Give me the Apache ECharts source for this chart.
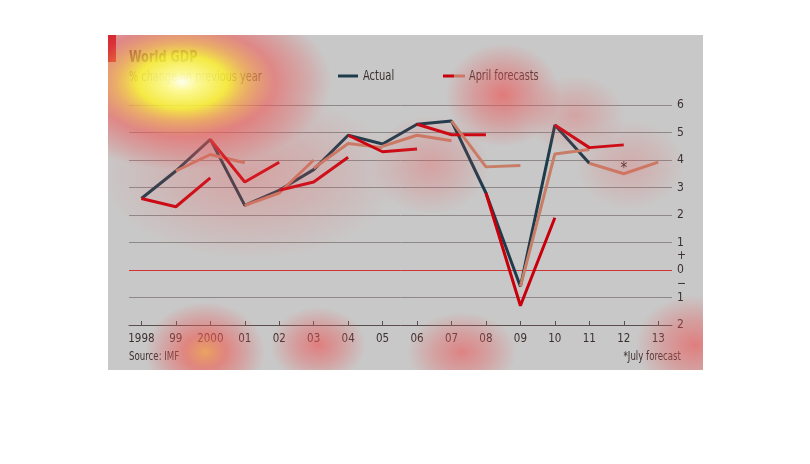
<!DOCTYPE html>
<html><head><meta charset="utf-8">
<script src="https://cdn.jsdelivr.net/npm/echarts@6/dist/echarts.min.js"></script>
<style>html,body{margin:0;padding:0;background:#fff}#c{width:810px;height:464px}</style>
</head><body><div id="c"></div>
<script>
// ---------- data ----------
const years = [1998,1999,2000,2001,2002,2003,2004,2005,2006,2007,2008,2009,2010,2011,2012,2013];
const tickLabels = ['1998','99','2000','01','02','03','04','05','06','07','08','09','10','11','12','13'];
const actualYears = [1998,1999,2000,2001,2002,2003,2004,2005,2006,2007,2008,2009,2010,2011];
const actual = [2.6,3.6,4.75,2.35,2.9,3.65,4.9,4.58,5.3,5.42,2.8,-0.6,5.27,3.88];
// each April forecast: [estimate for previous year, forecast for current year, forecast for next year]
const aprilForecastYears = [1999,2000,2001,2002,2003,2004,2005,2006,2007,2008,2009,2010,2011];
const aprilForecasts = [
  [2.6,2.3,3.35],
  [3.6,4.2,3.9],
  [4.75,3.2,3.92],
  [2.35,2.8,4.0],
  [2.9,3.2,4.1],
  [3.7,4.6,4.45],
  [4.9,4.3,4.4],
  [4.5,4.9,4.7],
  [5.3,4.92,4.92],
  [5.42,3.75,3.8],
  [2.8,-1.3,1.9],
  [-0.6,4.22,4.38],
  [5.27,4.45,4.55]
];
const julyForecastYears = [2011,2012,2013];
const julyForecast = [3.88,3.5,3.92];
const yLabelValues = [6,5,4,3,2,1,0.5,0,-0.5,-1,-2];
const yLabelTexts = ['6','5','4','3','2','1','+','0','\u2212','1','2'];

// ---------- styles ----------
const FONT = "'DejaVu Sans Condensed','DejaVu Sans',sans-serif";
const C_ACTUAL = '#1d3b4b';
const C_RED = '#c8000c';
const C_SALMON = '#c87d66';
const C_TEXT = '#3a3030';

const series = [];
series.push({
  name: 'Actual', type: 'line', data: actualYears.map((y, i) => [y, actual[i]]),
  showSymbol: false, symbol: 'none', z: 3,
  lineStyle: { color: C_ACTUAL, width: 3 },
  markLine: { silent: true, symbol: 'none', label: { show: false }, z: 1,
    lineStyle: { color: '#d43333', width: 1, type: 'solid' }, data: [{ yAxis: 0 }] }
});
aprilForecastYears.forEach((fy, k) => {
  const vals = aprilForecasts[k];
  series.push({
    name: 'April ' + fy, type: 'line', symbol: 'none', z: 4,
    data: vals.map((v, j) => [fy - 1 + j, v]),
    lineStyle: { color: fy % 2 === 1 ? C_RED : C_SALMON, width: 3 }
  });
});
series.push({
  name: 'July', type: 'line', symbol: 'circle', symbolSize: 0, showSymbol: true, z: 4,
  itemStyle: { color: C_SALMON },
  data: julyForecastYears.map((y, i) => i === 1
    ? { value: [y, julyForecast[i]], label: { show: true, formatter: '*', position: 'top', distance: -3,
        fontFamily: FONT, fontSize: 15, color: C_TEXT } }
    : [y, julyForecast[i]]),
  lineStyle: { color: C_SALMON, width: 3 }
});

// decorative heat overlay (attention map on the reference)
function blob(cx, cy, rx, ry, stops) {
  return { type: 'circle', x: cx, y: cy, scaleX: rx / ry, silent: true, z: 100,
    shape: { cx: 0, cy: 0, r: ry },
    style: { fill: { type: 'radial', x: 0.5, y: 0.5, r: 0.5, colorStops: stops } } };
}
const mild = a => [
  { offset: 0, color: 'rgba(238,80,80,' + a + ')' },
  { offset: 0.5, color: 'rgba(232,90,90,' + (a * 0.6) + ')' },
  { offset: 1, color: 'rgba(230,90,90,0)' }];
const warm = [
  { offset: 0, color: 'rgba(242,155,70,0.8)' },
  { offset: 0.35, color: 'rgba(238,90,80,0.6)' },
  { offset: 0.7, color: 'rgba(232,90,90,0.3)' },
  { offset: 1, color: 'rgba(230,90,90,0)' }];
const hot = [
  { offset: 0, color: 'rgba(255,255,240,0.98)' },
  { offset: 0.1, color: 'rgba(255,252,150,0.95)' },
  { offset: 0.3, color: 'rgba(250,238,50,0.88)' },
  { offset: 0.45, color: 'rgba(246,160,70,0.72)' },
  { offset: 0.62, color: 'rgba(238,90,88,0.58)' },
  { offset: 0.82, color: 'rgba(234,90,90,0.3)' },
  { offset: 1, color: 'rgba(230,90,90,0)' }];

const overlay = [
  blob(250, 175, 150, 85, mild(0.3)),
  blob(430, 165, 60, 50, mild(0.32)),
  blob(575, 115, 50, 40, mild(0.3)),
  blob(630, 165, 55, 45, mild(0.24)),
  blob(503, 95, 58, 52, mild(0.65)),
  blob(205, 352, 60, 50, warm),
  blob(318, 345, 48, 38, mild(0.62)),
  blob(462, 352, 55, 40, mild(0.58)),
  blob(695, 345, 60, 50, mild(0.62)),
  blob(182, 82, 150, 88, hot)
];
const covers = [
  [0, 0, 810, 35], [0, 0, 108, 464], [703, 0, 107, 464], [0, 370, 810, 94]
].map(r => ({ type: 'rect', silent: true, z: 200, shape: { x: r[0], y: r[1], width: r[2], height: r[3] }, style: { fill: '#fff' } }));

function txt(x, y, s, size, sx, extra) {
  return { type: 'text', z: 50, x: x, y: y, scaleX: sx,
    style: Object.assign({ text: s, fontFamily: FONT, fontSize: size, fill: C_TEXT, textVerticalAlign: 'middle' }, extra || {}) };
}

const chart = echarts.init(document.getElementById('c'), null, { renderer: 'canvas' });
chart.setOption({
  animation: false,
  backgroundColor: '#ffffff',
  textStyle: { fontFamily: FONT },
  grid: { left: 129, right: 138, top: 105, bottom: 139, containLabel: false },
  xAxis: {
    type: 'value', min: 1997.64, max: 2013.4,
    splitLine: { show: false },
    axisLine: { show: true, onZero: false, lineStyle: { color: '#5a4e4e', width: 1 } },
    axisTick: { show: true, inside: true, length: 4, customValues: years, lineStyle: { color: '#5a4e4e' } },
    axisLabel: { customValues: years, margin: 8, fontFamily: FONT, fontSize: 11.5, color: C_TEXT,
      formatter: v => tickLabels[years.indexOf(Math.round(v))] }
  },
  yAxis: {
    type: 'value', position: 'right', min: -2, max: 6, interval: 1,
    axisLine: { show: false }, axisTick: { show: false },
    splitLine: { show: true, lineStyle: { color: '#8e8888', width: 1 } },
    axisLabel: { customValues: yLabelValues, margin: 5, fontFamily: FONT, fontSize: 12, color: C_TEXT,
      formatter: v => yLabelTexts[yLabelValues.indexOf(v)] }
  },
  graphic: [
    { type: 'rect', z: -10, silent: true, shape: { x: 108, y: 35, width: 595, height: 335 }, style: { fill: '#c9c8c8' } },
    { type: 'rect', z: 50, silent: true, shape: { x: 108, y: 35, width: 8, height: 27 }, style: { fill: '#c00010' } },
    txt(129, 58, 'World GDP', 16, 0.79, { fontWeight: 'bold', fill: '#3a2828' }),
    txt(129, 77, '% change on previous year', 13.5, 0.8),
    { type: 'line', z: 50, shape: { x1: 338, y1: 76, x2: 358, y2: 76 }, style: { stroke: C_ACTUAL, lineWidth: 3 } },
    txt(363, 76, 'Actual', 13.5, 0.82),
    { type: 'line', z: 50, shape: { x1: 443, y1: 76, x2: 454, y2: 76 }, style: { stroke: C_RED, lineWidth: 3 } },
    { type: 'line', z: 50, shape: { x1: 454, y1: 76, x2: 465, y2: 76 }, style: { stroke: C_SALMON, lineWidth: 3 } },
    txt(469, 76, 'April forecasts', 13.5, 0.8),
    txt(129, 357, 'Source: IMF', 12, 0.8),
    txt(681, 357, '*July forecast', 12, 0.8, { textAlign: 'right' })
  ].concat(overlay, covers),
  series: series
});
</script></body></html>
